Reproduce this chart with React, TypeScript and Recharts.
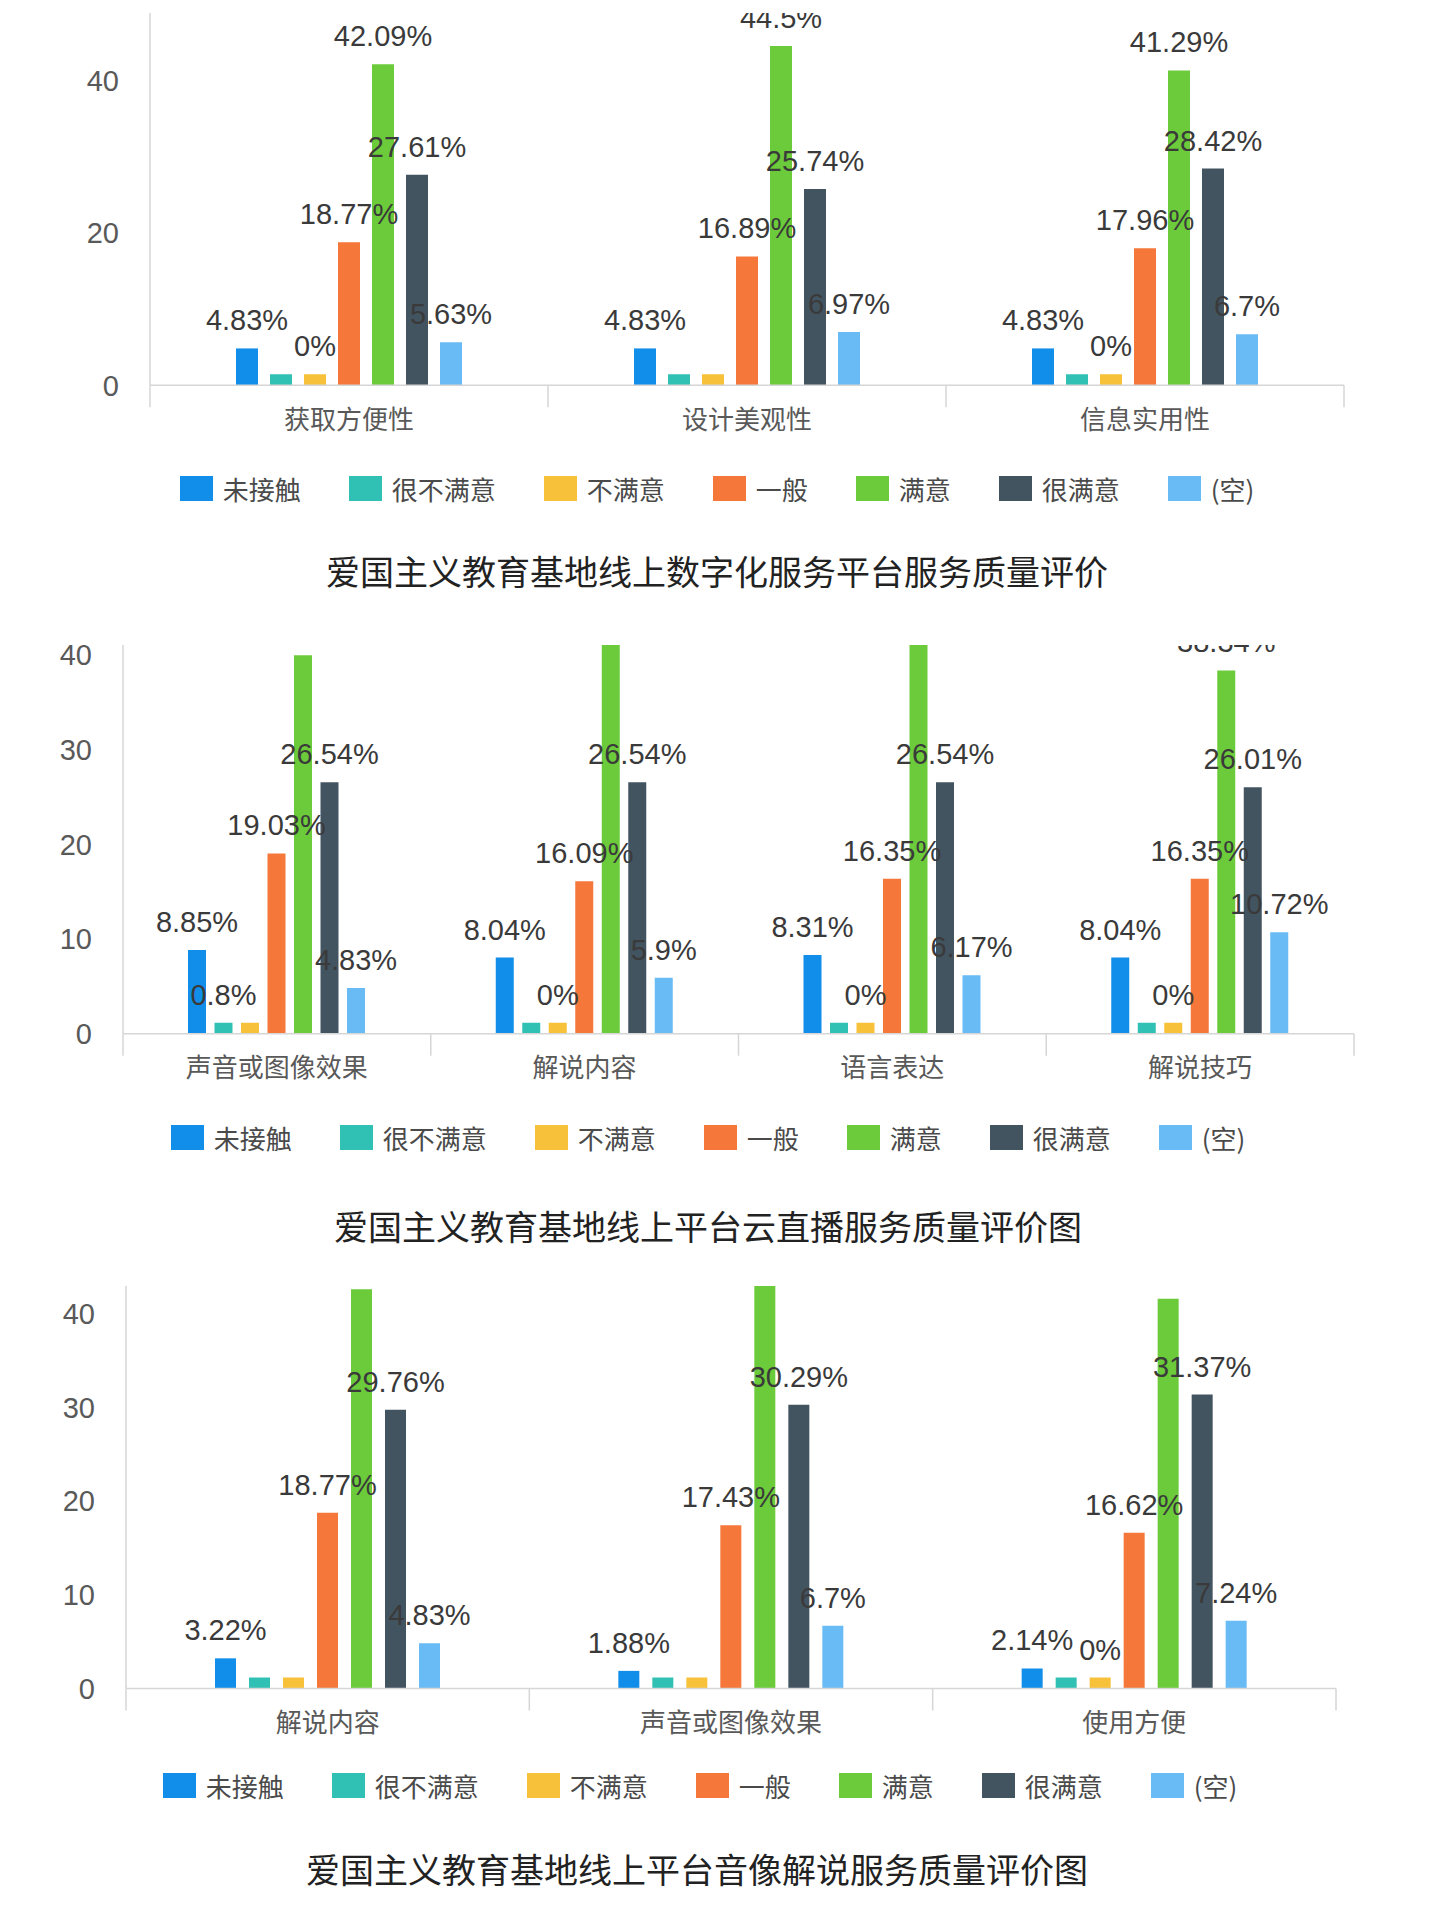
import React from "react";
import { Bar, BarChart, LabelList, Legend, XAxis, YAxis } from "recharts";

// series shared by all three charts
const seriesNames = ["未接触", "很不满意", "不满意", "一般", "满意", "很满意", "(空)"];
const seriesColors = ["#118ee9", "#30c0b4", "#f8c13a", "#f5773a", "#6ccb3a", "#435461", "#68bbf5"];

// chart 1: 数字化服务平台
const platformTitle = "爱国主义教育基地线上数字化服务平台服务质量评价";
const platformCategories = ["获取方便性", "设计美观性", "信息实用性"];
const platformTicks = [0, 20, 40];
const platformValues = [
  [4.83, 4.83, 4.83],
  [0, 0, 0],
  [0, 0, 0],
  [18.77, 16.89, 17.96],
  [42.09, 44.5, 41.29],
  [27.61, 25.74, 28.42],
  [5.63, 6.97, 6.7],
];
const platformLabels = [
  ["4.83%", "4.83%", "4.83%"],
  ["", "", ""],
  ["0%", "", "0%"],
  ["18.77%", "16.89%", "17.96%"],
  ["42.09%", "44.5%", "41.29%"],
  ["27.61%", "25.74%", "28.42%"],
  ["5.63%", "6.97%", "6.7%"],
];

// chart 2: 云直播
const liveTitle = "爱国主义教育基地线上平台云直播服务质量评价图";
const liveCategories = ["声音或图像效果", "解说内容", "语言表达", "解说技巧"];
const liveTicks = [0, 10, 20, 30, 40];
const liveValues = [
  [8.85, 8.04, 8.31, 8.04],
  [0.8, 0, 0, 0],
  [0, 0, 0, 0],
  [19.03, 16.09, 16.35, 16.35],
  [39.95, 43.43, 42.63, 38.34],
  [26.54, 26.54, 26.54, 26.01],
  [4.83, 5.9, 6.17, 10.72],
];
const liveLabels = [
  ["8.85%", "8.04%", "8.31%", "8.04%"],
  ["0.8%", "", "", ""],
  ["", "0%", "0%", "0%"],
  ["19.03%", "16.09%", "16.35%", "16.35%"],
  ["39.95%", "43.43%", "42.63%", "38.34%"],
  ["26.54%", "26.54%", "26.54%", "26.01%"],
  ["4.83%", "5.9%", "6.17%", "10.72%"],
];

// chart 3: 音像解说
const audioTitle = "爱国主义教育基地线上平台音像解说服务质量评价图";
const audioCategories = ["解说内容", "声音或图像效果", "使用方便"];
const audioTicks = [0, 10, 20, 30, 40];
const audioValues = [
  [3.22, 1.88, 2.14],
  [0, 0, 0],
  [0, 0, 0],
  [18.77, 17.43, 16.62],
  [42.6, 43.2, 41.6],
  [29.76, 30.29, 31.37],
  [4.83, 6.7, 7.24],
];
const audioLabels = [
  ["3.22%", "1.88%", "2.14%"],
  ["", "", ""],
  ["", "", "0%"],
  ["18.77%", "17.43%", "16.62%"],
  ["42.6%", "43.2%", "41.6%"],
  ["29.76%", "30.29%", "31.37%"],
  ["4.83%", "6.7%", "7.24%"],
];

const AXIS = "#d6d6d6";
const TEXT = "#595959";
const CJK = "'Noto Sans CJK SC', sans-serif";
const LATIN = "'Liberation Sans', 'Noto Sans CJK SC', sans-serif";

function buildRows(categories: string[], values: number[][], labels: string[][]) {
  return categories.map((name, i) => {
    const row: Record<string, string | number> = { name };
    seriesNames.forEach((_, j) => {
      row[`v${j}`] = values[j][i];
      row[`l${j}`] = labels[j][i];
    });
    return row;
  });
}

interface PanelProps {
  categories: string[];
  values: number[][];
  labels: string[][];
  ticks: number[];
  plotLeft: number;
  plotRight: number;
  baseline: number;
  pxPerUnit: number;
  cropTop: number;
  barSize: number;
  barGap: number;
  legendY: number;
  legendX: number;
}

function Panel(p: PanelProps) {
  const rows = buildRows(p.categories, p.values, p.labels);
  const plotH = 50 * p.pxPerUnit;
  const plotTop = p.baseline - plotH;
  const chartTop = plotTop - 40;
  const height = 40 + plotH + 200;
  const band = (p.plotRight - p.plotLeft) / p.categories.length;

  const tick = (props: any) => {
    const { x, y, payload } = props;
    const idx = p.categories.indexOf(payload.value);
    return (
      <g>
        <line x1={x - band / 2} x2={x - band / 2} y1={y} y2={y + 22} stroke={AXIS} strokeWidth={1.5} />
        {idx === p.categories.length - 1 && (
          <line x1={x + band / 2} x2={x + band / 2} y1={y} y2={y + 22} stroke={AXIS} strokeWidth={1.5} />
        )}
        <text x={x} y={y + 34} dy="0.36em" textAnchor="middle" fill={TEXT} fontSize={26} fontFamily={CJK}>
          {payload.value}
        </text>
      </g>
    );
  };

  const legend = (props: any) => {
    // keep the series order, not the alphabetical one
    const items = [...(props.payload || [])].sort(
      (a: any, b: any) => seriesNames.indexOf(a.value) - seriesNames.indexOf(b.value)
    );
    return (
      <div
        style={{
          display: "flex",
          justifyContent: "center",
          alignItems: "center",
          height: 25,
          transform: `translateX(${p.legendX - 720}px)`,
        }}
      >
        {items.map((item: any, i: number) => (
          <div key={item.value} style={{ display: "flex", alignItems: "center", marginLeft: i ? 48 : 0 }}>
            <span style={{ display: "inline-block", width: 33, height: 25, background: item.color }} />
            <span style={{ marginLeft: 10, fontSize: 26, color: "#4a4a4a", fontFamily: CJK, lineHeight: "25px" }}>
              {item.value}
            </span>
          </div>
        ))}
      </div>
    );
  };

  return (
    <div
      style={{
        position: "absolute",
        left: 0,
        top: p.cropTop,
        width: 1440,
        height: chartTop + height - p.cropTop,
        overflow: "hidden",
      }}
    >
      <div style={{ position: "absolute", left: 0, top: chartTop - p.cropTop }}>
        <BarChart
          width={1440}
          height={height}
          data={rows}
          margin={{ top: 40, left: 0, right: 1440 - p.plotRight, bottom: 140 }}
          barSize={p.barSize}
          barGap={p.barGap}
        >
          <XAxis
            dataKey="name"
            height={60}
            interval={0}
            axisLine={{ stroke: AXIS, strokeWidth: 1.5 }}
            tickLine={false}
            tickSize={0}
            tickMargin={0}
            tick={tick}
          />
          <YAxis
            width={p.plotLeft}
            domain={[0, 50]}
            ticks={p.ticks}
            axisLine={{ stroke: AXIS, strokeWidth: 1.5 }}
            tickLine={false}
            tickSize={0}
            tickMargin={31}
            tick={{ fill: TEXT, fontSize: 29, fontFamily: LATIN }}
          />
          <Legend
            layout="horizontal"
            align="center"
            verticalAlign="middle"
            width={1440}
            wrapperStyle={{ left: 0, top: p.legendY - 12.5 - chartTop, width: 1440 }}
            content={legend}
          />
          {seriesNames.map((name, j) => (
            <Bar
              key={name}
              dataKey={`v${j}`}
              name={name}
              fill={seriesColors[j]}
              minPointSize={11}
              isAnimationActive={false}
            >
              <LabelList
                dataKey={`l${j}`}
                position="top"
                offset={18}
                fill="#3a3a3a"
                fontSize={29}
                fontFamily={LATIN}
              />
            </Bar>
          ))}
        </BarChart>
      </div>
    </div>
  );
}

function Title({ text, x, y }: { text: string; x: number; y: number }) {
  return (
    <div
      style={{
        position: "absolute",
        left: x - 600,
        top: y - 25,
        width: 1200,
        height: 50,
        lineHeight: "50px",
        textAlign: "center",
        fontSize: 34,
        fontFamily: CJK,
        color: "#222",
      }}
    >
      {text}
    </div>
  );
}

export default function App() {
  return (
    <div style={{ position: "relative", width: 1440, height: 1920, background: "#fff", fontFamily: LATIN }}>
      <style>{"body{margin:0}"}</style>
      <Panel
        categories={platformCategories}
        values={platformValues}
        labels={platformLabels}
        ticks={platformTicks}
        plotLeft={150}
        plotRight={1344}
        baseline={385}
        pxPerUnit={7.625}
        cropTop={13}
        barSize={22}
        barGap={12}
        legendY={488}
        legendX={717}
      />
      <Title text={platformTitle} x={717} y={571} />
      <Panel
        categories={liveCategories}
        values={liveValues}
        labels={liveLabels}
        ticks={liveTicks}
        plotLeft={123}
        plotRight={1354}
        baseline={1034}
        pxPerUnit={9.475}
        cropTop={645}
        barSize={18}
        barGap={8.5}
        legendY={1137}
        legendX={708}
      />
      <Title text={liveTitle} x={708} y={1226} />
      <Panel
        categories={audioCategories}
        values={audioValues}
        labels={audioLabels}
        ticks={audioTicks}
        plotLeft={126}
        plotRight={1336}
        baseline={1688}
        pxPerUnit={9.37}
        cropTop={1286}
        barSize={21}
        barGap={13}
        legendY={1785}
        legendX={700}
      />
      <Title text={audioTitle} x={697} y={1869} />
    </div>
  );
}
